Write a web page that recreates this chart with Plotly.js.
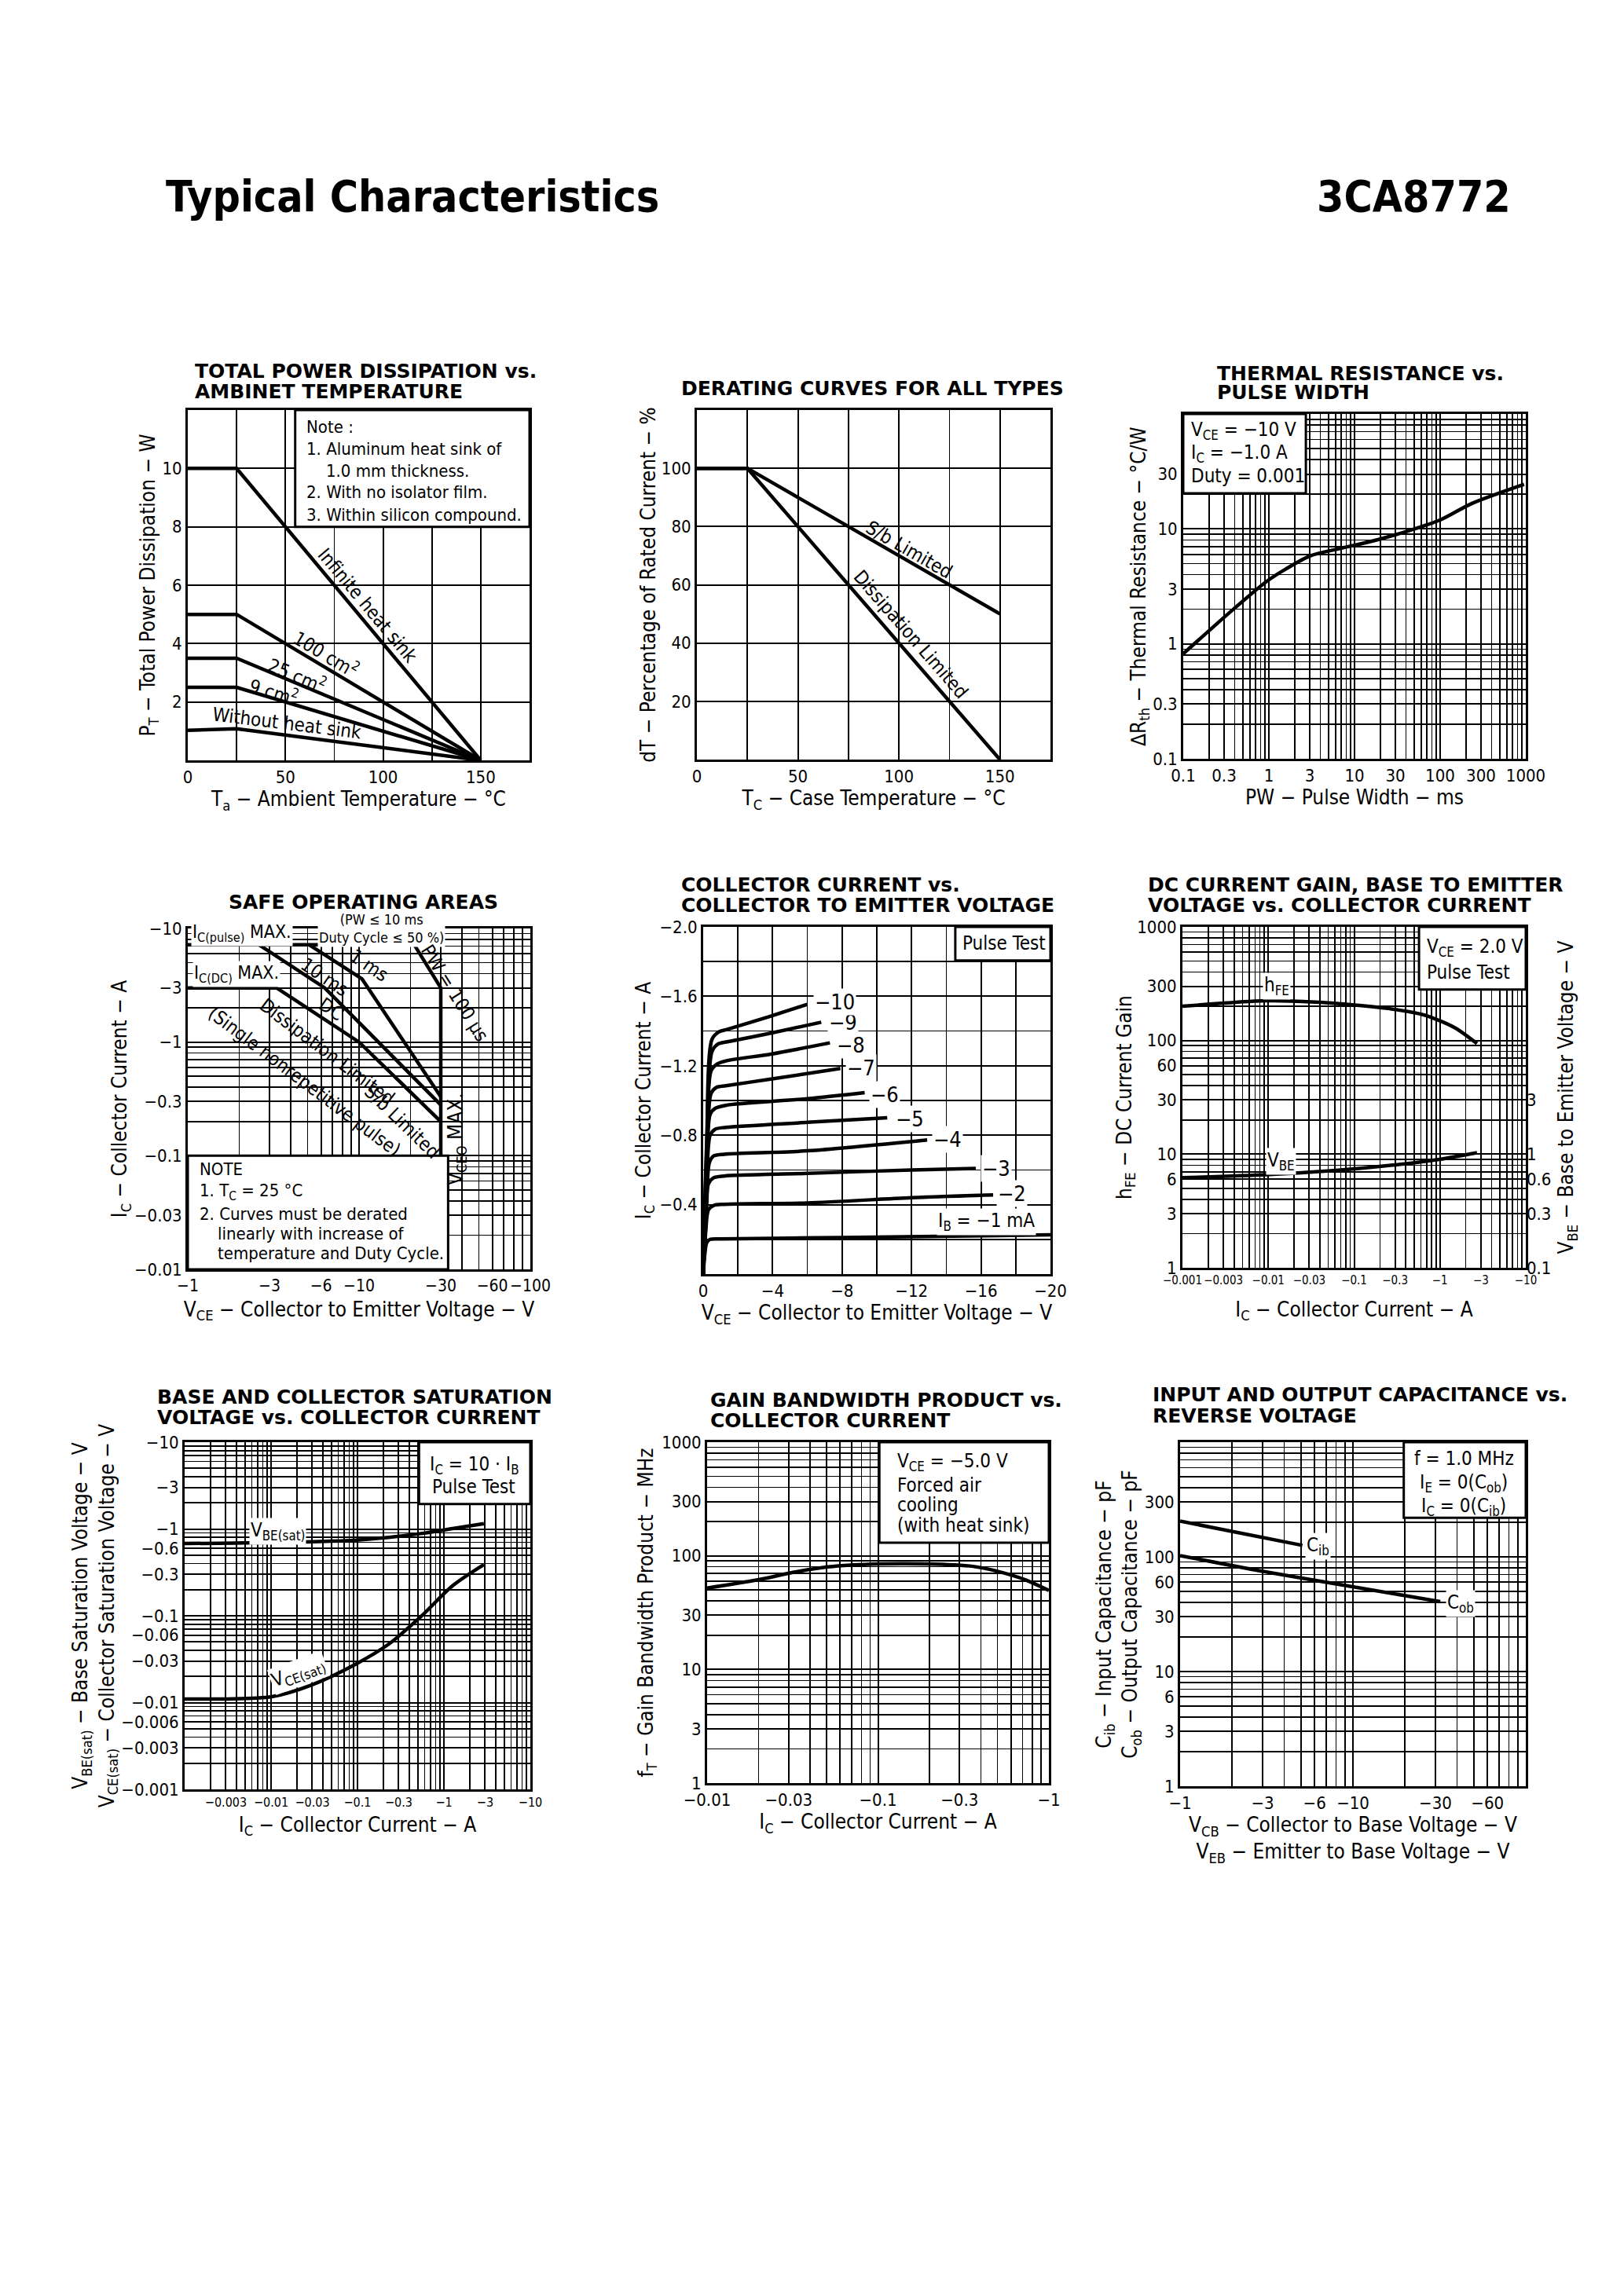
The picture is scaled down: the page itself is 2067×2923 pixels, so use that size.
<!DOCTYPE html>
<html><head><meta charset="utf-8">
<script src="https://cdn.plot.ly/plotly-3.0.1.min.js"></script>
<style>html,body{margin:0;padding:0;background:#fff;}#chart{width:2067px;height:2923px;}</style>
</head><body><div id="chart"></div>
<script>
// ===================== DATA =====================
// 1. Total power dissipation vs ambient temperature (Ta in degC, PT in W)
const pdTa = [0, 25, 150];
const pdInfinite = [10, 10, 0];
const pd100cm2 = [5, 5, 0];
const pd25cm2 = [3.5, 3.5, 0];
const pd9cm2 = [2.5, 2.5, 0];
const pdNoSink = [1.03, 1.08, 0];

// 2. Derating curves (Tc in degC, % of rated current)
const drTc = [0, 25, 150];
const drSbLimited = [100, 100, 50];
const drDissLimited = [100, 100, 0];

// 3. Thermal resistance vs pulse width (ms, degC/W)
const thPwMs = [0.1, 0.385, 0.96, 1.58, 3.08, 7.08, 19.2, 44, 101, 233, 955];
const thRth = [0.82, 2.0, 3.53, 4.48, 5.85, 6.8, 8.1, 9.7, 12, 16.6, 24.4];

// 4. Safe operating areas (magnitudes of VCE in V and IC in A; axes labelled negative)
const soaEnvV = [1, 21, 30, 30];
const soaEnvI = [7.2, 7.2, 3.0, 0.01];
const soa1msV = [5.1, 10.4, 30];
const soa1msI = [7.2, 3.6, 0.33];
const soa10msV = [2.6, 6.3, 30];
const soa10msI = [7.2, 3.0, 0.28];
const soaDcV = [1, 3.3, 10, 30];
const soaDcI = [3.0, 3.0, 1.0, 0.2];

// 5. Collector current vs collector-emitter voltage (V, A), one curve per IB step
const ocLabels = ['I<sub>B</sub> = −1 mA', '−2', '−3', '−4', '−5', '−6', '−7', '−8', '−9', '−10'];
const ocVce1 = [0, -0.1, -0.2, -0.4, -1, -8, -20];
const ocIc1 = [0, -0.12, -0.18, -0.2, -0.203, -0.21, -0.226];
const ocVce2 = [0, -0.15, -0.3, -0.6, -1.2, -6, -12, -16.7];
const ocIc2 = [0, -0.25, -0.37, -0.395, -0.402, -0.41, -0.44, -0.456];
const ocVce3 = [0, -0.15, -0.3, -0.6, -1.2, -6, -12, -15.7];
const ocIc3 = [0, -0.3, -0.52, -0.555, -0.565, -0.58, -0.6, -0.609];
const ocVce4 = [0, -0.2, -0.35, -0.6, -1.2, -6, -12.9];
const ocIc4 = [0, -0.4, -0.64, -0.68, -0.69, -0.71, -0.773];
const ocVce5 = [0, -0.2, -0.4, -0.7, -1.3, -6, -10.6];
const ocIc5 = [0, -0.5, -0.8, -0.835, -0.845, -0.874, -0.9];
const ocVce6 = [0, -0.2, -0.4, -0.7, -1.3, -6, -9.3];
const ocIc6 = [0, -0.55, -0.92, -0.955, -0.972, -1.01, -1.045];
const ocVce7 = [0, -0.2, -0.45, -0.75, -1.3, -3.9, -7.9];
const ocIc7 = [0, -0.6, -1.04, -1.075, -1.085, -1.123, -1.184];
const ocVce8 = [0, -0.2, -0.45, -0.8, -1.4, -3.9, -7.3];
const ocIc8 = [0, -0.65, -1.17, -1.21, -1.23, -1.267, -1.332];
const ocVce9 = [0, -0.2, -0.5, -0.85, -1.4, -3.9, -6.8];
const ocIc9 = [0, -0.7, -1.28, -1.325, -1.338, -1.388, -1.451];
const ocVce10 = [0, -0.2, -0.5, -0.9, -1.4, -3.9, -6.0];
const ocIc10 = [0, -0.75, -1.35, -1.395, -1.41, -1.486, -1.554];

// 6. DC current gain and VBE vs collector current (|IC| in A)
const gainIcA = [0.001, 0.0094, 0.0355, 0.096, 0.28, 0.65, 1.48, 2.7];
const gainHfe = [200, 224, 218, 206, 189, 168, 130, 94];
const vbeIcA = [0.001, 0.0094, 0.0355, 0.096, 0.28, 0.98, 2.7];
const vbeVolt = [0.62, 0.66, 0.70, 0.74, 0.80, 0.90, 1.03];

// 7. Saturation voltages vs collector current (magnitudes)
const satVbeIc = [0.001, 0.0047, 0.096, 0.54, 1.26, 2.9];
const satVbe = [0.68, 0.69, 0.745, 0.885, 1.01, 1.15];
const satVceIc = [0.001, 0.0031, 0.0102, 0.0287, 0.096, 0.227, 0.54, 1.26, 2.9];
const satVce = [0.011, 0.011, 0.0117, 0.0158, 0.0278, 0.0467, 0.0975, 0.222, 0.389];

// 8. Gain bandwidth product vs collector current (|IC| A, MHz)
const ftIcA = [0.01, 0.0198, 0.0318, 0.0509, 0.1029, 0.192, 0.36, 0.49, 0.73, 1.0];
const ftMHz = [52, 61.4, 71.4, 79.8, 84.8, 84.8, 80.7, 73.6, 61.4, 49.5];

// 9. Capacitance vs reverse voltage (|V|, pF)
const cibV = [1, 5.1];
const cibPF = [205, 126];
const cobV = [1, 2.97, 9.2, 32];
const cobPF = [102.6, 75, 56, 40.7];

// Tick labels
const c1xLabVals = [0, 50, 100, 150];
const c1xLabText = ['0', '50', '100', '150'];
const c1xGrid = [25, 75, 125, 175];
const c1yLabVals = [2, 4, 6, 8, 10];
const c1yLabText = ['2', '4', '6', '8', '10'];
const c1yGrid = [12];
const c2yLabVals = [20, 40, 60, 80, 100];
const c2yLabText = ['20', '40', '60', '80', '100'];
const c2yGrid = [120];
const c3xLabVals = [0.1, 0.3, 1, 3, 10, 30, 100, 300, 1000];
const c3xLabText = ['0.1', '0.3', '1', '3', '10', '30', '100', '300', '1000'];
const c3yLabVals = [0.1, 0.3, 1, 3, 10, 30];
const c3yLabText = ['0.1', '0.3', '1', '3', '10', '30'];
const c4xLabVals = [1, 3, 6, 10, 30, 60, 100];
const c4xLabText = ['−1', '−3', '−6', '−10', '−30', '−60', '−100'];
const c4yLabVals = [0.01, 0.03, 0.1, 0.3, 1, 3, 10];
const c4yLabText = ['−0.01', '−0.03', '−0.1', '−0.3', '−1', '−3', '−10'];
const c5xLabVals = [0, -4, -8, -12, -16, -20];
const c5xLabText = ['0', '−4', '−8', '−12', '−16', '−20'];
const c5xGrid = [-2, -6, -10, -14, -18];
const c5yLabVals = [-0.4, -0.8, -1.2, -1.6, -2.0];
const c5yLabText = ['−0.4', '−0.8', '−1.2', '−1.6', '−2.0'];
const c5yGrid = [-0.2, -0.6, -1.0, -1.4, -1.8];
const c6xLabVals = [0.001, 0.003, 0.01, 0.03, 0.1, 0.3, 1, 3, 10];
const c6xLabText = ['−0.001', '−0.003', '−0.01', '−0.03', '−0.1', '−0.3', '−1', '−3', '−10'];
const c6yLabVals = [1, 3, 6, 10, 30, 60, 100, 300, 1000];
const c6yLabText = ['1', '3', '6', '10', '30', '60', '100', '300', '1000'];
const c6y2LabVals = [0.1, 0.3, 0.6, 1, 3];
const c6y2LabText = ['0.1', '0.3', '0.6', '1', '3'];
const c7xLabVals = [0.003, 0.01, 0.03, 0.1, 0.3, 1, 3, 10];
const c7xLabText = ['−0.003', '−0.01', '−0.03', '−0.1', '−0.3', '−1', '−3', '−10'];
const c7yLabVals = [0.001, 0.003, 0.006, 0.01, 0.03, 0.06, 0.1, 0.3, 0.6, 1, 3, 10];
const c7yLabText = ['−0.001', '−0.003', '−0.006', '−0.01', '−0.03', '−0.06', '−0.1', '−0.3', '−0.6', '−1', '−3', '−10'];
const c8xLabVals = [0.01, 0.03, 0.1, 0.3, 1];
const c8xLabText = ['−0.01', '−0.03', '−0.1', '−0.3', '−1'];
const c8yLabVals = [1, 3, 10, 30, 100, 300, 1000];
const c8yLabText = ['1', '3', '10', '30', '100', '300', '1000'];
const c9xLabVals = [1, 3, 6, 10, 30, 60];
const c9xLabText = ['−1', '−3', '−6', '−10', '−30', '−60'];
const c9yLabVals = [1, 3, 6, 10, 30, 60, 100, 300];
const c9yLabText = ['1', '3', '6', '10', '30', '60', '100', '300'];

// ===================== HELPERS =====================
const W = 2067, H = 2923;
const NARROW = "'Liberation Sans Narrow','DejaVu Sans Condensed','Arial Narrow',sans-serif";
const TITLEF = "'DejaVu Sans',Verdana,sans-serif";
const BLACK = '#000';
function dxd(l, r) { return [l / W, r / W]; }
function dyd(t, b) { return [1 - b / H, 1 - t / H]; }
function logGrid(lo, hi) {
  const v = [];
  for (let d = lo; d < hi; d++) for (let k = 1; k < 10; k++) v.push(+(k * Math.pow(10, d)).toPrecision(6));
  v.push(+Math.pow(10, hi).toPrecision(6));
  return v;
}
function notIn(grid, vals) { return grid.filter(g => !vals.some(v => Math.abs(v / g - 1) < 1e-6)); }
function minorGrid(vals) {
  return { tickmode: 'array', tickvals: vals, showgrid: true, gridcolor: BLACK, gridwidth: 1.6, ticks: '' };
}
function ax(domain, anchor, extra) {
  return Object.assign({
    domain, anchor, showgrid: true, gridcolor: BLACK, gridwidth: 2, showline: true, linecolor: BLACK,
    linewidth: 3, mirror: true, zeroline: false, ticks: '', automargin: false, fixedrange: true, tickangle: 0,
    tickfont: { family: NARROW, size: 22, color: BLACK }, tickmode: 'array'
  }, extra);
}
function linAx(domain, anchor, range, labVals, labText, gridVals, extra) {
  return ax(domain, anchor, Object.assign({ range, tickvals: labVals, ticktext: labText, minor: minorGrid(gridVals) }, extra));
}
function logAx(domain, anchor, lo, hi, labVals, labText, extra) {
  const g = logGrid(lo, hi);
  return ax(domain, anchor, Object.assign({ type: 'log', range: [lo, hi], tickvals: labVals, ticktext: labText, minor: minorGrid(notIn(g, labVals)) }, extra));
}
function ttl(text, standoff) { return { text, standoff, font: { family: NARROW, size: 26, color: BLACK } }; }
function line(x, y, xa, ya, extra) {
  return Object.assign({ x, y, xaxis: xa, yaxis: ya, mode: 'lines', line: { color: BLACK, width: 4.5 }, hoverinfo: 'skip', showlegend: false }, extra);
}
function spl(x, y, xa, ya) { return line(x, y, xa, ya, { line: { color: BLACK, width: 4.5, shape: 'spline', smoothing: 0.8 } }); }
function lab(xa, ya, x, y, text, o) {
  return Object.assign({ xref: xa, yref: ya, x, y, text, showarrow: false, font: { family: NARROW, size: 24, color: BLACK } }, o || {});
}
const L = Math.log10;
function ptxt(xp, yp, text, o) {
  return Object.assign({ xref: 'paper', yref: 'paper', x: xp / W, y: 1 - yp / H, text, showarrow: false, xanchor: 'left', yanchor: 'middle',
    font: { family: NARROW, size: 22, color: BLACK } }, o || {});
}
function ctitle(xp, yp, text) {
  return ptxt(xp, yp, text, { font: { family: TITLEF, size: 25, color: BLACK, weight: 'bold' } });
}
function box(xa, ya, x0, x1, y0, y1) {
  return { type: 'rect', xref: xa + ' domain', yref: ya + ' domain', x0, x1, y0, y1, fillcolor: '#fff', line: { color: BLACK, width: 3 }, layer: 'above' };
}
const F24 = { family: NARROW, size: 24, color: BLACK };

// ===================== TRACES =====================
const traces = [
  line(pdTa, pdInfinite, 'x', 'y'), line(pdTa, pd100cm2, 'x', 'y'), line(pdTa, pd25cm2, 'x', 'y'),
  line(pdTa, pd9cm2, 'x', 'y'), line(pdTa, pdNoSink, 'x', 'y'),
  line(drTc, drSbLimited, 'x2', 'y2'), line(drTc, drDissLimited, 'x2', 'y2'),
  spl(thPwMs, thRth, 'x3', 'y3'),
  line(soaEnvV, soaEnvI, 'x4', 'y4'), line(soa1msV, soa1msI, 'x4', 'y4'),
  line(soa10msV, soa10msI, 'x4', 'y4'), line(soaDcV, soaDcI, 'x4', 'y4'),
  spl(ocVce1, ocIc1, 'x5', 'y5'), spl(ocVce2, ocIc2, 'x5', 'y5'), spl(ocVce3, ocIc3, 'x5', 'y5'),
  spl(ocVce4, ocIc4, 'x5', 'y5'), spl(ocVce5, ocIc5, 'x5', 'y5'), spl(ocVce6, ocIc6, 'x5', 'y5'),
  spl(ocVce7, ocIc7, 'x5', 'y5'), spl(ocVce8, ocIc8, 'x5', 'y5'), spl(ocVce9, ocIc9, 'x5', 'y5'),
  spl(ocVce10, ocIc10, 'x5', 'y5'),
  spl(gainIcA, gainHfe, 'x6', 'y6'), spl(vbeIcA, vbeVolt, 'x6', 'y10'),
  spl(satVbeIc, satVbe, 'x7', 'y7'), spl(satVceIc, satVce, 'x7', 'y7'),
  spl(ftIcA, ftMHz, 'x8', 'y8'),
  line(cibV, cibPF, 'x9', 'y9'), spl(cobV, cobPF, 'x9', 'y9')
];

// ===================== LAYOUT =====================
const C1 = { x: dxd(239, 674), y: dyd(522, 968) };
const C2 = { x: dxd(887, 1337), y: dyd(522, 967) };
const C3 = { x: dxd(1506, 1942), y: dyd(527, 966) };
const C4 = { x: dxd(239, 675), y: dyd(1182, 1616) };
const C5 = { x: dxd(895, 1337), y: dyd(1180, 1622) };
const C6 = { x: dxd(1505, 1942), y: dyd(1180, 1614) };
const C7 = { x: dxd(235, 675), y: dyd(1836, 2278) };
const C8 = { x: dxd(900, 1335), y: dyd(1836, 2270) };
const C9 = { x: dxd(1502, 1942), y: dyd(1836, 2274) };
const TICK6 = { family: NARROW, size: 15, color: BLACK };
const TICK7 = { family: NARROW, size: 16, color: BLACK };

const layout = {
  width: W, height: H, margin: { l: 0, r: 0, t: 0, b: 0 }, paper_bgcolor: '#fff', plot_bgcolor: '#fff',
  showlegend: false, hovermode: false,
  xaxis: linAx(C1.x, 'y', [0, 175], c1xLabVals, c1xLabText, c1xGrid, { title: ttl('T<sub>a</sub> − Ambient Temperature − °C', 4) }),
  yaxis: linAx(C1.y, 'x', [0, 12], c1yLabVals, c1yLabText, c1yGrid, { title: ttl('P<sub>T</sub> − Total Power Dissipation − W', 2) }),
  xaxis2: linAx(C2.x, 'y2', [0, 175], c1xLabVals, c1xLabText, c1xGrid, { title: ttl('T<sub>C</sub> − Case Temperature − °C', 4) }),
  yaxis2: linAx(C2.y, 'x2', [0, 120], c2yLabVals, c2yLabText, c2yGrid, { title: ttl('dT − Percentage of Rated Current − %', 0) }),
  xaxis3: logAx(C3.x, 'y3', -1, 3, c3xLabVals, c3xLabText, { title: ttl('PW − Pulse Width − ms', 4) }),
  yaxis3: logAx(C3.y, 'x3', -1, 2, c3yLabVals, c3yLabText, { title: ttl('∆R<sub>th</sub> − Thermal Resistance − °C/W', 0) }),
  xaxis4: logAx(C4.x, 'y4', 0, 2, c4xLabVals, c4xLabText, { tickfont: { family: NARROW, size: 21, color: BLACK }, title: ttl('V<sub>CE</sub> − Collector to Emitter Voltage − V', 10) }),
  yaxis4: logAx(C4.y, 'x4', -2, 1, c4yLabVals, c4yLabText, { title: ttl('I<sub>C</sub> − Collector Current − A', 0) }),
  xaxis5: linAx(C5.x, 'y5', [0, -20], c5xLabVals, c5xLabText, c5xGrid, { title: ttl('V<sub>CE</sub> − Collector to Emitter Voltage − V', 4) }),
  yaxis5: linAx(C5.y, 'x5', [0, -2], c5yLabVals, c5yLabText, c5yGrid, { title: ttl('I<sub>C</sub> − Collector Current − A', 4) }),
  xaxis6: logAx(C6.x, 'y6', -3, 1, c6xLabVals, c6xLabText, { tickfont: TICK6, title: ttl('I<sub>C</sub> − Collector Current − A', 20) }),
  yaxis6: logAx(C6.y, 'x6', 0, 3, c6yLabVals, c6yLabText, { title: ttl('h<sub>FE</sub> − DC Current Gain', 0) }),
  yaxis10: ax(undefined, 'x6', { type: 'log', range: [-1, 2], tickvals: c6y2LabVals, ticktext: c6y2LabText, overlaying: 'y6', side: 'right', showgrid: false, showline: false, title: ttl('V<sub>BE</sub> − Base to Emitter Voltage − V', 10) }),
  xaxis7: logAx(C7.x, 'y7', -3, 1, c7xLabVals, c7xLabText, { tickfont: TICK7, title: ttl('I<sub>C</sub> − Collector Current − A', 11) }),
  yaxis7: logAx(C7.y, 'x7', -3, 1, c7yLabVals, c7yLabText, { title: ttl('V<sub>BE(sat)</sub> − Base Saturation Voltage − V<br>V<sub>CE(sat)</sub> − Collector Saturation Voltage − V', 0) }),
  xaxis8: logAx(C8.x, 'y8', -2, 0, c8xLabVals, c8xLabText, { title: ttl('I<sub>C</sub> − Collector Current − A', 4) }),
  yaxis8: logAx(C8.y, 'x8', 0, 3, c8yLabVals, c8yLabText, { title: ttl('f<sub>T</sub> − Gain Bandwidth Product − MHz', 4) }),
  xaxis9: logAx(C9.x, 'y9', 0, 2, c9xLabVals, c9xLabText, { title: ttl('V<sub>CB</sub> − Collector to Base Voltage − V<br>V<sub>EB</sub> − Emitter to Base Voltage − V', 4) }),
  yaxis9: logAx(C9.y, 'x9', 0, 3, c9yLabVals, c9yLabText, { title: ttl('C<sub>ib</sub> − Input Capacitance − pF<br>C<sub>ob</sub> − Output Capacitance − pF', 0) }),
  shapes: [
    box('x', 'y', 55 / 175, 1, 8 / 12, 1),
    box('x3', 'y3', 0, 0.358, 0.77, 1),
    box('x4', 'y4', 0, 0.76, 0, 1 / 3),
    box('x5', 'y5', 0.726, 1, 0.903, 1),
    box('x6', 'y6', 0.689, 1, 0.816, 1),
    box('x7', 'y7', 0.678, 1, 0.822, 1),
    box('x8', 'y8', 0.504, 1, 0.705, 1),
    box('x9', 'y9', 0.647, 1, 0.78, 1)
  ],
  annotations: []
};
delete layout.yaxis10.domain;

const A = layout.annotations;
// Page header
A.push(ptxt(209, 250, 'Typical Characteristics', { font: { family: NARROW, size: 55, color: BLACK, weight: 'bold' } }));
A.push(ptxt(1925, 250, '3CA8772', { xanchor: 'right', font: { family: NARROW, size: 55, color: BLACK, weight: 'bold' } }));
// Chart titles
A.push(ctitle(246, 472, 'TOTAL POWER DISSIPATION vs.'), ctitle(246, 498, 'AMBINET TEMPERATURE'));
A.push(ctitle(865, 494, 'DERATING CURVES FOR ALL TYPES'));
A.push(ctitle(1547, 475, 'THERMAL RESISTANCE vs.'), ctitle(1547, 500, 'PULSE WIDTH'));
A.push(ctitle(289, 1148, 'SAFE OPERATING AREAS'));
A.push(ctitle(865, 1126, 'COLLECTOR CURRENT vs.'), ctitle(865, 1152, 'COLLECTOR TO EMITTER VOLTAGE'));
A.push(ctitle(1459, 1126, 'DC CURRENT GAIN, BASE TO EMITTER'), ctitle(1459, 1152, 'VOLTAGE vs. COLLECTOR CURRENT'));
A.push(ctitle(198, 1778, 'BASE AND COLLECTOR SATURATION'), ctitle(198, 1804, 'VOLTAGE vs. COLLECTOR CURRENT'));
A.push(ctitle(902, 1782, 'GAIN BANDWIDTH PRODUCT vs.'), ctitle(902, 1808, 'COLLECTOR CURRENT'));
A.push(ctitle(1465, 1775, 'INPUT AND OUTPUT CAPACITANCE vs.'), ctitle(1465, 1802, 'REVERSE VOLTAGE'));

// Chart 1 note + labels
A.push(ptxt(388, 543, 'Note :'), ptxt(388, 571, '1. Aluminum heat sink of'), ptxt(413, 599, '1.0 mm thickness.'),
  ptxt(388, 627, '2. With no isolator film.'), ptxt(388, 655, '3. Within silicon compound.'));
A.push(lab('x', 'y', 92, 5.3, 'Infinite heat sink', { textangle: 50 }));
A.push(lab('x', 'y', 71, 3.66, '100 cm<sup>2</sup>', { textangle: 31 }));
A.push(lab('x', 'y', 56, 2.94, '25 cm<sup>2</sup>', { textangle: 23 }));
A.push(lab('x', 'y', 44, 2.37, '9 cm<sup>2</sup>', { textangle: 17 }));
A.push(lab('x', 'y', 51, 1.26, 'Without heat sink', { textangle: 7 }));
// Chart 2 labels
A.push(lab('x2', 'y2', 105, 72, 'S/b Limited', { textangle: 30 }));
A.push(lab('x2', 'y2', 106, 43, 'Dissipation Limited', { textangle: 49 }));
// Chart 3 note
A.push(ptxt(1514, 549, 'V<sub>CE</sub> = −10 V', { font: F24 }),
  ptxt(1514, 577, 'I<sub>C</sub> = −1.0 A', { font: F24 }),
  ptxt(1514, 606, 'Duty = 0.001', { font: F24 }));
// Chart 4 labels
A.push(ptxt(243, 1188, 'I<sub>C(pulse)</sub> MAX.', { bgcolor: '#fff', font: { family: NARROW, size: 23, color: BLACK } }));
A.push(ptxt(404, 1182, '(PW ≤ 10 ms<br>Duty Cycle ≤ 50 %)', { bgcolor: '#fff', font: { family: NARROW, size: 18, color: BLACK } }));
A.push(ptxt(245, 1240, 'I<sub>C(DC)</sub> MAX.', { bgcolor: '#fff', font: { family: NARROW, size: 23, color: BLACK } }));
A.push(lab('x4', 'y4', L(11.4), L(4.7), '1 ms', { textangle: 34 }));
A.push(lab('x4', 'y4', L(6.3), L(3.75), '10 ms', { textangle: 34 }));
A.push(lab('x4', 'y4', L(6.9), L(1.95), 'DC', { textangle: 34 }));
A.push(lab('x4', 'y4', L(6.5), L(0.82), 'Dissipation Limited', { textangle: 37 }));
A.push(lab('x4', 'y4', L(4.8), L(0.45), '(Single nonrepetitive pulse)', { textangle: 37 }));
A.push(lab('x4', 'y4', L(17.8), L(0.2), 'S/b Limited', { textangle: 44 }));
A.push(lab('x4', 'y4', L(36), L(2.7), 'PW = 100 µs', { textangle: 58 }));
A.push(lab('x4', 'y4', L(37), L(0.14), 'V<sub>CEO</sub> MAX.', { textangle: -90, font: { family: NARROW, size: 26, color: BLACK } }));
A.push(ptxt(252, 1489, 'NOTE'), ptxt(252, 1517, '1. T<sub>C</sub> = 25 °C'), ptxt(252, 1545, '2. Curves must be derated'),
  ptxt(275, 1570, 'linearly with increase of'), ptxt(275, 1595, 'temperature and Duty Cycle.'));
// Chart 5 labels
A.push(ptxt(1278, 1201, 'Pulse Test', { xanchor: 'center', font: F24 }));
const ocEndX = [-16.3, -16.9, -15.96, -13.15, -10.98, -9.56, -8.21, -7.58, -7.16, -6.34];
const ocEndY = [-0.30, -0.465, -0.609, -0.778, -0.892, -1.035, -1.19, -1.32, -1.448, -1.569];
ocLabels.forEach((t, i) => {
  A.push(lab('x5', 'y5', ocEndX[i], ocEndY[i], t, i === 0 ? { xanchor: 'center', bgcolor: '#fff' } : { xanchor: 'left', bgcolor: '#fff', font: { family: NARROW, size: 27, color: BLACK } }));
});
// Chart 6 labels
A.push(ptxt(1814, 1206, 'V<sub>CE</sub> = 2.0 V', { font: F24 }), ptxt(1814, 1238, 'Pulse Test', { font: F24 }));
A.push(lab('x6', 'y6', L(0.0125), L(300), 'h<sub>FE</sub>', { bgcolor: '#fff' }));
A.push(lab('x6', 'y6', L(0.014), L(8.6), 'V<sub>BE</sub>', { bgcolor: '#fff' }));
// Chart 7 labels
A.push(ptxt(603, 1866, 'I<sub>C</sub> = 10 · I<sub>B</sub>', { xanchor: 'center', font: F24 }),
  ptxt(603, 1893, 'Pulse Test', { xanchor: 'center', font: F24 }));
A.push(lab('x7', 'y7', L(0.012), L(0.93), 'V<sub>BE(sat)</sub>', { bgcolor: '#fff' }));
A.push(lab('x7', 'y7', L(0.021), L(0.022), 'V<sub>CE(sat)</sub>', { bgcolor: '#fff', textangle: -20 }));
// Chart 8 note
A.push(ptxt(1140, 1861, 'V<sub>CE</sub> = −5.0 V', { font: F24 }), ptxt(1140, 1891, 'Forced air', { font: F24 }),
  ptxt(1140, 1916, 'cooling', { font: F24 }), ptxt(1140, 1942, '(with heat sink)', { font: F24 }));
// Chart 9 labels
A.push(ptxt(1863, 1857, 'f = 1.0 MHz', { xanchor: 'center', font: F24 }),
  ptxt(1863, 1889, 'I<sub>E</sub> = 0(C<sub>ob</sub>)', { xanchor: 'center', font: F24 }),
  ptxt(1863, 1918, 'I<sub>C</sub> = 0(C<sub>ib</sub>)', { xanchor: 'center', font: F24 }));
A.push(lab('x9', 'y9', L(6.3), L(124), 'C<sub>ib</sub>', { bgcolor: '#fff' }));
A.push(lab('x9', 'y9', L(42), L(39), 'C<sub>ob</sub>', { bgcolor: '#fff' }));

Plotly.newPlot('chart', traces, layout, { staticPlot: true, displayModeBar: false });
</script>
</body></html>
